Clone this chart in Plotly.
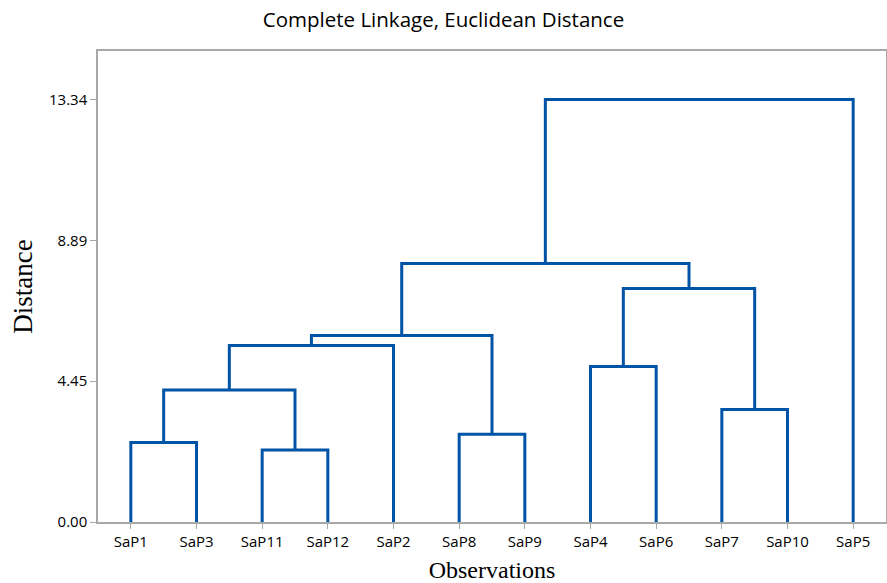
import plotly.graph_objects as go

# Leaves in display order
leaves = ["SaP1", "SaP3", "SaP11", "SaP12", "SaP2", "SaP8", "SaP9",
          "SaP4", "SaP6", "SaP7", "SaP10", "SaP5"]

# Merges: node ids 0..11 are leaves (display order), new clusters numbered from 12
merge_left = [0, 2, 12, 14, 5, 15, 7, 9, 18, 17, 21]
merge_right = [1, 3, 13, 4, 6, 16, 8, 10, 19, 20, 11]
merge_height = [2.51, 2.27, 4.17, 5.57, 2.77, 5.89, 4.91, 3.55, 7.37, 8.16, 13.34]

y_ticks = [0.00, 4.45, 8.89, 13.34]

n = len(leaves)
pos = {i: float(i + 1) for i in range(n)}
hgt = {i: 0.0 for i in range(n)}

xs, ys = [], []
for k, (a, b, h) in enumerate(zip(merge_left, merge_right, merge_height)):
    node = n + k
    xa, xb = pos[a], pos[b]
    xs += [xa, xa, xb, xb, None]
    ys += [hgt[a], h, h, hgt[b], None]
    pos[node] = (xa + xb) / 2
    hgt[node] = h

line_color = "rgb(0,84,166)"
frame_color = "#a8a8a8"

fig = go.Figure()
fig.add_trace(go.Scatter(x=xs, y=ys, mode="lines",
                         line=dict(color=line_color, width=3),
                         hoverinfo="skip", showlegend=False))

sans = "Open Sans"
serif = "Liberation Serif"

fig.update_layout(
    width=887, height=583,
    margin=dict(l=98, r=1, t=51, b=61),
    paper_bgcolor="white", plot_bgcolor="white",
    title=dict(text="Complete Linkage, Euclidean Distance",
               font=dict(family=sans, size=20.5, color="black"),
               x=0.5, xanchor="center", y=1 - 20 / 583, yanchor="middle"),
    showlegend=False,
)
fig.update_xaxes(
    automargin=False,
    range=[0.5, n + 0.5], tickmode="array",
    tickvals=list(range(1, n + 1)), ticktext=leaves,
    showgrid=False, zeroline=False,
    showline=True, mirror=True, linecolor=frame_color, linewidth=1.5,
    ticks="outside", ticklen=5, tickcolor=frame_color, tickwidth=1,
    tickfont=dict(family=sans, size=15, color="black"),
    title=dict(text="Observations", font=dict(family=serif, size=24, color="black"),
               standoff=13),
)
fig.update_yaxes(
    automargin=False,
    range=[0, 14.87], tickmode="array",
    tickvals=y_ticks, ticktext=[f"{v:.2f}" for v in y_ticks],
    showgrid=False, zeroline=False,
    showline=True, mirror=True, linecolor=frame_color, linewidth=1.5,
    ticks="outside", ticklen=6, tickcolor=frame_color, tickwidth=1,
    tickfont=dict(family=sans, size=15, color="black"),
    title=dict(text="Distance", font=dict(family=serif, size=27, color="black"),
               standoff=9),
)

fig.write_html("out.html", config={"responsive": False, "displayModeBar": False},
               post_script="document.body.style.margin='0';document.body.style.overflow='hidden';")
